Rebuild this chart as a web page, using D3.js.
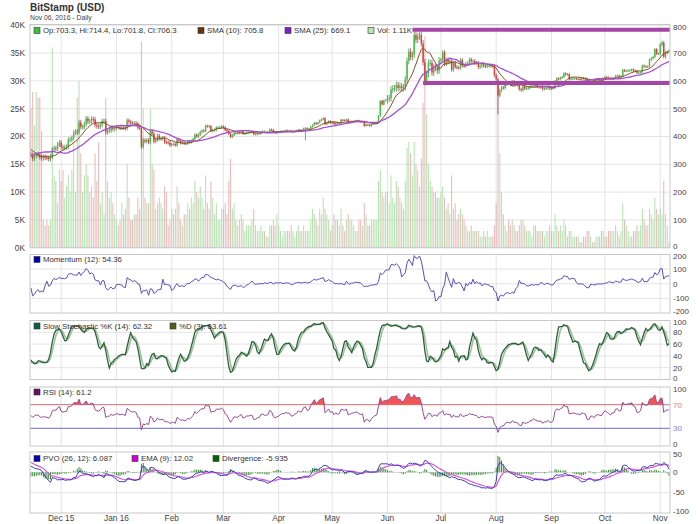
<!DOCTYPE html>
<html><head><meta charset="utf-8">
<script src="https://cdn.jsdelivr.net/npm/d3@7"></script>
<style>
body{margin:0;background:#fff}
svg{display:block}
text{font-family:"Liberation Sans",Arial,Helvetica,sans-serif}
</style>
</head><body>
<svg id="c" width="700" height="524"></svg>
<script>
// ---------------- DATA (daily, BitStamp USD) ----------------
// warm-up + visible period; first value = 2015-10-04
const closeOct15=[239,240,246,243,243,245,246,247,245,251,253,255,263,270,262,264,270,267,275,277,282,286,286,296,304,314,328,312];
const closeNov15=[326,361,403,402,386,373,384,372,380,336,306,336,337,333,320,330,335,334,326,322,326,324,323,319,328,353,358,357,371,378];
const closeDec15=[362,359,361,363,388,389,395,414,417,415,451,434,434,444,465,454,455,463,461,441,437,436,442,455,455,416,422,422,432,427,430];
const closeJan16=[434,433,430,433,431,429,458,453,448,447,448,446,432,430,364,387,382,387,379,419,410,382,388,403,392,392,395,380,379,378,369];
const closeFeb16=[372,373,368,390,385,376,378,374,375,382,379,384,391,406,400,407,416,421,420,438,437,437,420,423,423,432,432,432,436];
const closeMar16=[433,423,420,409,398,405,413,412,412,416,419,410,412,415,415,416,417,408,408,411,411,417,418,416,416,417,425,423,416,413,415];
const closeApr16=[416,419,420,420,422,421,421,418,418,420,421,424,423,424,429,430,427,428,435,441,449,445,450,458,461,466,444,449,455,448];
const closeMay16=[451,444,449,446,448,460,459,458,461,450,452,454,455,456,457,454,453,454,438,443,442,438,443,446,449,450,474,528,515,530,531];
const closeJun16=[537,538,569,573,574,585,575,581,574,577,605,672,705,686,694,765,748,760,765,735,667,596,625,665,665,630,648,647,637,673];
const closeJul16=[676,703,660,677,667,673,640,665,650,648,647,675,655,654,662,663,677,671,671,665,665,650,654,660,654,653,655,655,655,654,621];
const closeAug16=[606,547,566,576,575,587,592,591,587,597,589,587,585,570,567,580,573,574,576,581,582,587,583,580,578,579,571,574,574,577,573];
const closeSep16=[572,575,599,609,606,611,614,627,623,624,606,608,609,609,607,607,605,610,609,608,597,596,603,603,600,605,606,605,604,609];
const closeOct16=[614,612,610,608,611,611,618,619,616,617,639,636,636,638,638,641,637,636,629,629,632,655,652,651,652,676,681,686,714,697,698];
const closeNov16=[730,738,687,702,703.3,706.3];

// typical intraday wick beyond the candle body, per month (USD)
const wickByMonth=[4,9,9,7,5,4,3,3,12,7,6,4,4,6];

// volume in thousands of BTC
const volOct15=[3,6,7,6,6,6,3,3,6,8,7,8,15,12,8,9,12,8,11,9,10,9,11,15,17,18,25,18];
const volNov15=[14,40,70,75,45,30,20,22,18,40,45,30,20,25,28,22,28,27,27,21,5,4,5,4,5,36,13,12,8,14];
const volDec15=[12,14,9,11,13,10,14,19,10,27,30,17,10,13,15,13,10,11,9,17,12,19,8,10,6,27,12,9,10,8,6];
const volJan16=[5,4,5,8,6,7,15,9,5,5,6,6,9,7,37,25,9,8,8,25,15,14,7,8,9,8,7,11,10,4,5];
const volFeb16=[7,6,7,11,8,5,4,6,6,8,7,9,8,12,10,9,11,9,7,13,8,7,12,9,6,8,5,5,7];
const volMar16=[7,8,6,12,16,7,8,5,4,5,6,5,3,4,4,4,5,7,4,3,3,4,3,3,2,2,4,4,5,4,6];
const volApr16=[4,3,2,3,3,3,3,4,3,2,3,4,3,3,4,3,3,3,5,7,6,5,4,7,6,9,7,6,5,3];
const volMay16=[4,6,5,5,4,7,4,3,5,6,5,5,4,3,3,5,5,4,8,6,4,4,5,5,5,5,12,14,10,9,10];
const volJun16=[10,8,13,9,8,12,11,9,8,7,12,18,19,17,13,19,15,14,11,16,26,38,24,15,12,11,10,10,9,9];
const volJul16=[10,11,9,7,8,6,13,7,8,5,6,7,6,5,4,3,3,4,3,3,3,3,2,2,3,2,3,2,2,2,4];
const volAug16=[8,30,17,10,6,4,3,5,4,5,4,3,3,4,5,5,4,3,3,3,2,4,4,3,3,3,3,2,3,3,4];
const volSep16=[3,3,6,4,3,4,3,5,4,2,3,3,2,2,2,2,1,1,2,2,3,3,2,1,1,2,2,2,3,3];
const volOct16=[2,2,3,3,3,3,4,3,2,3,8,5,4,3,2,2,3,3,4,3,4,7,5,4,4,7,6,5,9,7,6];
const volNov16=[7,6,12,6,4,1.11];

// notable intraday extremes [date, high, low]
const wickOverrides=[["2016-01-15",null,356],["2016-04-16",null,387],["2016-06-16",778,null],["2016-08-02",null,480],["2016-11-06",714.4,701.8]];
const lastOpen=703.3;

// support / resistance lines [start date, price]
const levelLines=[["2016-06-15",784],["2016-06-21",592]];

const monthLabels=["Dec 15","Jan 16","Feb","Mar","Apr","May","Jun","Jul","Aug","Sep","Oct","Nov"];
const priceTicks=[0,100,200,300,400,500,600,700,800];
const volTicks=[0,5,10,15,20,25,30,35,40];
const momTicks=[-200,-100,0,100,200];
const stoTicks=[0,20,40,60,80,100];
const rsiTicks=[0,30,70,100];
const pvoTicks=[-100,-50,0,50];

const title="BitStamp (USD)";
const subtitle="Nov 06, 2016 - Daily";
const legMain=["Op:703.3, Hi:714.4, Lo:701.8, Cl:706.3","SMA (10): 705.8","SMA (25): 669.1","Vol: 1.11K"];
const legMom=["Momentum (12): 54.36"];
const legSto=["Slow Stochastic %K (14): 62.32","%D (3): 63.61"];
const legRsi=["RSI (14): 61.2"];
const legPvo=["PVO (26, 12): 6.087","EMA (9): 12.02","Divergence: -5.935"];

// ---------------- PREP ----------------
const closes=[].concat(closeOct15,closeNov15,closeDec15,closeJan16,closeFeb16,closeMar16,closeApr16,closeMay16,closeJun16,closeJul16,closeAug16,closeSep16,closeOct16,closeNov16);
const vols=[].concat(volOct15,volNov15,volDec15,volJan16,volFeb16,volMar16,volApr16,volMay16,volJun16,volJul16,volAug16,volSep16,volOct16,volNov16);
const dataStart=new Date(2015,9,4);
const visStart=new Date(2015,10,14);
const OFF=d3.timeDay.count(dataStart,visStart);
const T=closes.length;
const dates=d3.range(T).map(k=>d3.timeDay.offset(dataStart,k));
const monthOf=k=>(dates[k].getFullYear()-2015)*12+dates[k].getMonth()-9;
const opens=closes.map((c,i)=>i===0?c:closes[i-1]);
opens[T-1]=lastOpen;
const highs=closes.map((c,i)=>Math.max(c,opens[i])+wickByMonth[monthOf(i)]);
const lows=closes.map((c,i)=>Math.min(c,opens[i])-wickByMonth[monthOf(i)]);
const pd=d3.timeParse("%Y-%m-%d");
wickOverrides.forEach(([d,h,l])=>{const k=d3.timeDay.count(dataStart,pd(d)); if(h!=null)highs[k]=h; if(l!=null)lows[k]=l;});

function sma(a,n){return a.map((_,i)=>{if(i<n-1)return null;const s=a.slice(i-n+1,i+1);if(s.some(v=>v==null))return null;return d3.mean(s);});}
function ema(a,n){const k=2/(n+1);let p=null;return a.map(v=>{if(v==null)return null;p=p==null?v:p+k*(v-p);return p;});}
function rsiF(c,n){const o=Array(c.length).fill(null);let ag=0,al=0;for(let i=1;i<=n;i++){const d=c[i]-c[i-1];if(d>0)ag+=d;else al-=d;}ag/=n;al/=n;o[n]=100-100/(1+ag/al);for(let i=n+1;i<c.length;i++){const d=c[i]-c[i-1];ag=(ag*(n-1)+Math.max(d,0))/n;al=(al*(n-1)+Math.max(-d,0))/n;o[i]=al===0?100:100-100/(1+ag/al);}return o;}

const sma10=sma(closes,10), sma25=sma(closes,25);
const mom=closes.map((c,i)=>i<12?null:c-closes[i-12]);
const fastK=closes.map((c,i)=>{if(i<13)return null;const hh=d3.max(highs.slice(i-13,i+1)),ll=d3.min(lows.slice(i-13,i+1));return hh===ll?50:100*(c-ll)/(hh-ll);});
const slowK=sma(fastK,3), pctD=sma(slowK,3);
const rsi=rsiF(closes,14);
const e12=ema(vols,12), e26=ema(vols,26);
const pvo=vols.map((v,i)=>(e12[i]-e26[i])/e26[i]*100);
const sig=ema(pvo,9);
const hist=pvo.map((v,i)=>v-sig[i]);

const N=T-OFF;
const bars=d3.range(N).map(i=>{const k=i+OFF;return {i,date:dates[k],o:opens[k],h:highs[k],l:lows[k],c:closes[k],v:vols[k],s10:sma10[k],s25:sma25[k],mom:mom[k],k:slowK[k],d:pctD[k],rsi:rsi[k],pvo:pvo[k],sig:sig[k],hist:hist[k]};});

// ---------------- LAYOUT ----------------
const svg=d3.select("#c");
const X0=30,X1=670;
const x=d3.scaleLinear().domain([-0.5,N-0.5]).range([X0,X1]);
const P={
  main:{t:24.5,b:247.7},
  mom:{t:254.5,b:313},
  sto:{t:320.5,b:379.5},
  rsi:{t:387,b:446},
  pvo:{t:452,b:513}
};
const yP=d3.scaleLinear([0,800],[247.7,25.3]);
const yV=d3.scaleLinear([0,40],[247.7,25.3]);
const yM=d3.scaleLinear([-200,200],[313,254.5]);
const yS=d3.scaleLinear([0,100],[379.5,320.5]);
const yR=d3.scaleLinear([0,100],[446,387]);
const yO=d3.scaleLinear([-100,50],[513,452]);

const defs=svg.append("defs");
Object.entries(P).forEach(([k,p])=>{defs.append("clipPath").attr("id","cl-"+k).append("rect").attr("x",X0).attr("y",p.t).attr("width",X1-X0).attr("height",p.b-p.t);});

const monthIdx=bars.filter(b=>b.date.getDate()===1).map(b=>b.i);
const GRID="#e4e4e4";

function panel(key,yScale,gridVals){
  const p=P[key];
  const g=svg.append("g");
  g.append("rect").attr("x",X0).attr("y",p.t).attr("width",X1-X0).attr("height",p.b-p.t).attr("fill","#fff");
  g.selectAll(".vg").data(monthIdx).join("line").attr("x1",d=>x(d)).attr("x2",d=>x(d)).attr("y1",p.t).attr("y2",p.b).attr("stroke",GRID).attr("stroke-width",1);
  g.selectAll(".hg").data(gridVals).join("line").attr("x1",X0).attr("x2",X1).attr("y1",d=>yScale(d)).attr("y2",d=>yScale(d)).attr("stroke",GRID).attr("stroke-width",1);
  return svg.append("g").attr("clip-path",`url(#cl-${key})`);
}
function border(key){const p=P[key];svg.append("rect").attr("x",X0).attr("y",p.t).attr("width",X1-X0).attr("height",p.b-p.t).attr("fill","none").attr("stroke","#c8c8c8").attr("stroke-width",1);}
function rightAxis(ticks,yScale,colorFn){
  const lo=d3.min(ticks), hi=d3.max(ticks);
  svg.append("g").selectAll("text").data(ticks).join("text").attr("x",673)
    .attr("y",d=>yScale(d)+(d===lo?-1.8:d===hi?1.8:0)).attr("dy","0.35em").attr("font-size",8)
    .attr("fill",d=>colorFn?colorFn(d):"#444").text(d=>d);
}
function legend(items,y){
  const g=svg.append("g");
  items.forEach(it=>{
    g.append("rect").attr("x",it.x).attr("y",y-3).attr("width",6).attr("height",6).attr("fill",it.fill).attr("stroke",it.stroke||"#333").attr("stroke-width",0.6);
    g.append("text").attr("x",it.x+9).attr("y",y).attr("dy","0.35em").attr("font-size",7.8).attr("fill","#333").text(it.t);
  });
}
const lineGen=(acc,ys)=>d3.line().defined(b=>acc(b)!=null).x(b=>x(b.i)).y(b=>ys(acc(b)));

// ---------------- MAIN ----------------
const gm=panel("main",yP,priceTicks);
gm.selectAll(".vol").data(bars).join("rect")
  .attr("x",b=>x(b.i)-0.5).attr("width",1)
  .attr("y",b=>yV(b.v)).attr("height",b=>yV(0)-yV(b.v))
  .attr("fill",b=>b.c>=b.o?"#a6dca0":"#e4aaaa").attr("opacity",0.85);
gm.selectAll(".wick").data(bars).join("line")
  .attr("x1",b=>x(b.i)).attr("x2",b=>x(b.i)).attr("y1",b=>yP(b.h)).attr("y2",b=>yP(b.l))
  .attr("stroke",b=>b.c>=b.o?"#3a7a3a":"#8a3a3a").attr("stroke-width",0.7);
gm.selectAll(".body").data(bars).join("rect")
  .attr("x",b=>x(b.i)-0.7).attr("width",1.4)
  .attr("y",b=>yP(Math.max(b.o,b.c))).attr("height",b=>Math.max(1,Math.abs(yP(b.o)-yP(b.c))))
  .attr("fill",b=>b.c>=b.o?"#44c044":"#e23b3b");
gm.append("path").datum(bars).attr("d",lineGen(b=>b.s10,yP)).attr("fill","none").attr("stroke","#8b4a1c").attr("stroke-width",1);
gm.append("path").datum(bars).attr("d",lineGen(b=>b.s25,yP)).attr("fill","none").attr("stroke","#a64fd6").attr("stroke-width",1.3);
levelLines.forEach(([d,p])=>{const k=d3.timeDay.count(visStart,pd(d));gm.append("line").attr("x1",x(k)).attr("x2",X1).attr("y1",yP(p)).attr("y2",yP(p)).attr("stroke","#a545a5").attr("stroke-width",4);});
border("main");
rightAxis(priceTicks,yP);
svg.append("g").selectAll("text").data(volTicks).join("text").attr("x",25).attr("y",d=>yV(d)).attr("dy","0.35em").attr("text-anchor","end").attr("font-size",8.3).attr("fill","#444").text(d=>d+"K");
legend([{x:34,t:legMain[0],fill:"#3fbf3f"},{x:198,t:legMain[1],fill:"#663311"},{x:285,t:legMain[2],fill:"#7a22cc"},{x:368,t:legMain[3],fill:"#b8e6b0",stroke:"#333"}],30.5);

// ---------------- MOMENTUM ----------------
const go=panel("mom",yM,[-100,0,100]);
go.append("path").datum(bars).attr("d",lineGen(b=>b.mom,yM)).attr("fill","none").attr("stroke","#5252c8").attr("stroke-width",1);
border("mom");
rightAxis(momTicks,yM);
legend([{x:34,t:legMom[0],fill:"#0000aa"}],259.5);

// ---------------- STOCHASTIC ----------------
const gs=panel("sto",yS,[20,40,60,80]);
gs.append("path").datum(bars).attr("d",lineGen(b=>b.d,yS)).attr("fill","none").attr("stroke","#9cc39c").attr("stroke-width",1.6);
gs.append("path").datum(bars).attr("d",lineGen(b=>b.k,yS)).attr("fill","none").attr("stroke","#2f5f3c").attr("stroke-width",1.3);
border("sto");
rightAxis(stoTicks,yS);
legend([{x:34,t:legSto[0],fill:"#0f5a50"},{x:170,t:legSto[1],fill:"#5a5a1e"}],326);

// ---------------- RSI ----------------
const gr=panel("rsi",yR,[]);
gr.append("path").datum(bars).attr("d",d3.area().defined(b=>b.rsi!=null).x(b=>x(b.i)).y0(yR(70)).y1(b=>yR(Math.max(70,b.rsi)))).attr("fill","#f25454");
gr.append("line").attr("x1",X0).attr("x2",X1).attr("y1",yR(70)).attr("y2",yR(70)).attr("stroke","#d06a6a").attr("stroke-width",1);
gr.append("line").attr("x1",X0).attr("x2",X1).attr("y1",yR(30)).attr("y2",yR(30)).attr("stroke","#6a6ad0").attr("stroke-width",1);
gr.append("path").datum(bars).attr("d",lineGen(b=>b.rsi,yR)).attr("fill","none").attr("stroke","#9a4a9a").attr("stroke-width",1);
border("rsi");
rightAxis(rsiTicks,yR,d=>d===70?"#e08080":d===30?"#8080e0":"#444");
legend([{x:34,t:legRsi[0],fill:"#6a0a6a"}],392);

// ---------------- PVO ----------------
const gp=panel("pvo",yO,[0,-50]);
gp.selectAll(".hb").data(bars).join("rect")
  .attr("x",b=>x(b.i)-0.5).attr("width",1)
  .attr("y",b=>yO(Math.max(0,b.hist))).attr("height",b=>Math.abs(yO(b.hist)-yO(0)))
  .attr("fill","#3a8a3a");
gp.append("path").datum(bars).attr("d",lineGen(b=>b.sig,yO)).attr("fill","none").attr("stroke","#d35ad8").attr("stroke-width",1.2);
gp.append("path").datum(bars).attr("d",lineGen(b=>b.pvo,yO)).attr("fill","none").attr("stroke","#3a3ab8").attr("stroke-width",1);
border("pvo");
rightAxis(pvoTicks,yO);
legend([{x:34,t:legPvo[0],fill:"#0000bb"},{x:132,t:legPvo[1],fill:"#d000d0"},{x:213,t:legPvo[2],fill:"#006600"}],458.5);

// ---------------- X AXIS ----------------
svg.append("g").selectAll("text").data(monthIdx).join("text").attr("x",d=>x(d)).attr("y",521).attr("text-anchor","middle").attr("font-size",8.3).attr("fill","#444").text((d,j)=>monthLabels[j]);

// ---------------- TITLES ----------------
svg.append("text").attr("x",30).attr("y",10.5).attr("font-size",10).attr("font-weight","bold").attr("fill","#333").text(title);
svg.append("text").attr("x",30).attr("y",20).attr("font-size",6.8).attr("fill","#444").text(subtitle);
</script>
</body></html>
